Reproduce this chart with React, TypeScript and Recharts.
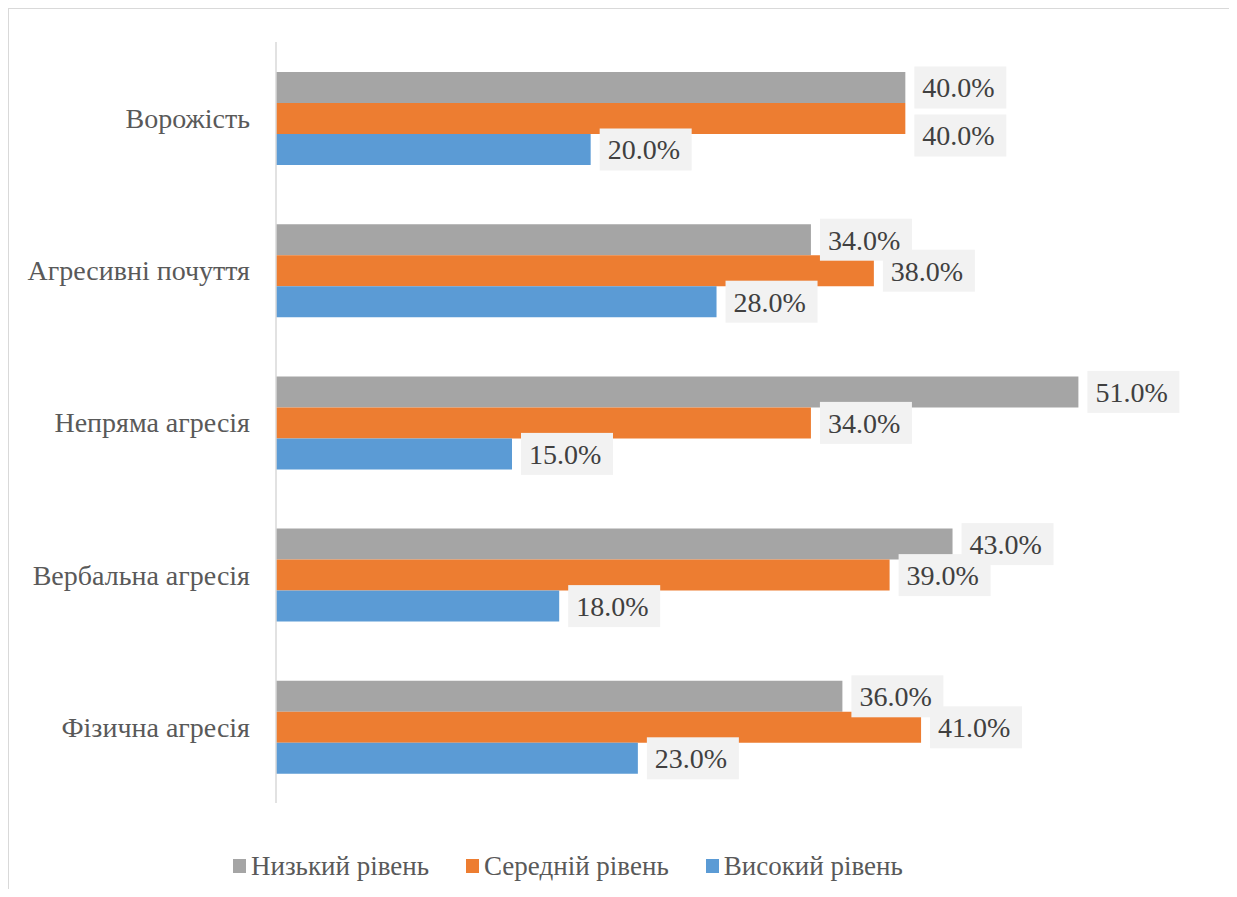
import React from "react";
import { BarChart, Bar, XAxis, YAxis, Legend, LabelList } from "recharts";

// categories, top to bottom
const categories = [
  "Ворожість",
  "Агресивні почуття",
  "Непряма агресія",
  "Вербальна агресія",
  "Фізична агресія",
];

const lowLevel = [40, 34, 51, 43, 36];
const midLevel = [40, 38, 34, 39, 41];
const highLevel = [20, 28, 15, 18, 23];

const seriesNames = ["Низький рівень", "Середній рівень", "Високий рівень"];
const seriesColors = ["#a5a5a5", "#ed7d31", "#5b9bd5"];
const seriesValues = [lowLevel, midLevel, highLevel];

const data = categories.map((name, i) => ({
  name,
  low: lowLevel[i],
  mid: midLevel[i],
  high: highLevel[i],
}));

const keys = ["low", "mid", "high"];

const BOX_W = 92;
const BOX_H = 42;
const LABEL_FONT = '"Liberation Serif", "DejaVu Serif", serif';
const TICK_FONT = '"Times New Roman", "Liberation Serif", serif';
const LEGEND_FONT = "serif";

// value label with grey box; pushes down when it would sit on the label above
const makeLabel = (s: number) => (props: any) => {
  const { x, y, width, height, value, index } = props;
  const end = x + width;
  let cy = y + height / 2;
  if (s > 0 && value) {
    const perUnit = width / value;
    const prevEnd = x + seriesValues[s - 1][index] * perUnit;
    if (Math.abs(prevEnd - end) < BOX_W / 2) {
      cy = cy - height + BOX_H + 6;
    }
  }
  const bx = end + 9;
  return (
    <g>
      <rect x={bx} y={cy - BOX_H / 2} width={BOX_W} height={BOX_H} fill="#f2f2f2" />
      <text x={bx + 8} y={cy} dy="0.35em" fontSize={28} fontFamily={LABEL_FONT} fill="#404040">
        {Number(value).toFixed(1) + "%"}
      </text>
    </g>
  );
};

const renderLegend = () => (
  <div
    style={{
      display: "flex",
      alignItems: "center",
      height: 40,
      paddingLeft: 224,
      fontFamily: LEGEND_FONT,
      fontSize: 27,
      color: "#595959",
    }}
  >
    {seriesNames.map((n, i) => (
      <div key={n} style={{ display: "flex", alignItems: "center", marginRight: 37 }}>
        <span
          style={{
            display: "inline-block",
            width: 13,
            height: 14,
            background: seriesColors[i],
            marginRight: 5,
          }}
        />
        <span>{n}</span>
      </div>
    ))}
  </div>
);

export default function App() {
  return (
    <div
      style={{
        width: 1221,
        height: 881,
        borderTop: "1px solid #d9d9d9",
        borderLeft: "1px solid #d9d9d9",
        boxSizing: "border-box",
        overflow: "hidden",
      }}
    >
      <BarChart
        width={1220}
        height={880}
        data={data}
        layout="vertical"
        barSize={31}
        barGap={0}
        margin={{ top: 33, right: 9, bottom: 46, left: 0 }}
      >
        <XAxis type="number" domain={[0, 60]} hide />
        <YAxis
          type="category"
          dataKey="name"
          width={267}
          tickLine={false}
          tickSize={0}
          tickMargin={26}
          axisLine={{ stroke: "#d9d9d9", strokeWidth: 1.5 }}
          tick={{ fontSize: 28, fill: "#595959", fontFamily: TICK_FONT }}
        />
        <Legend verticalAlign="bottom" content={renderLegend} wrapperStyle={{ bottom: 3 }} />
        {keys.map((k, s) => (
          <Bar key={k} dataKey={k} name={seriesNames[s]} fill={seriesColors[s]} isAnimationActive={false}>
            <LabelList dataKey={k} content={makeLabel(s)} />
          </Bar>
        ))}
      </BarChart>
    </div>
  );
}
